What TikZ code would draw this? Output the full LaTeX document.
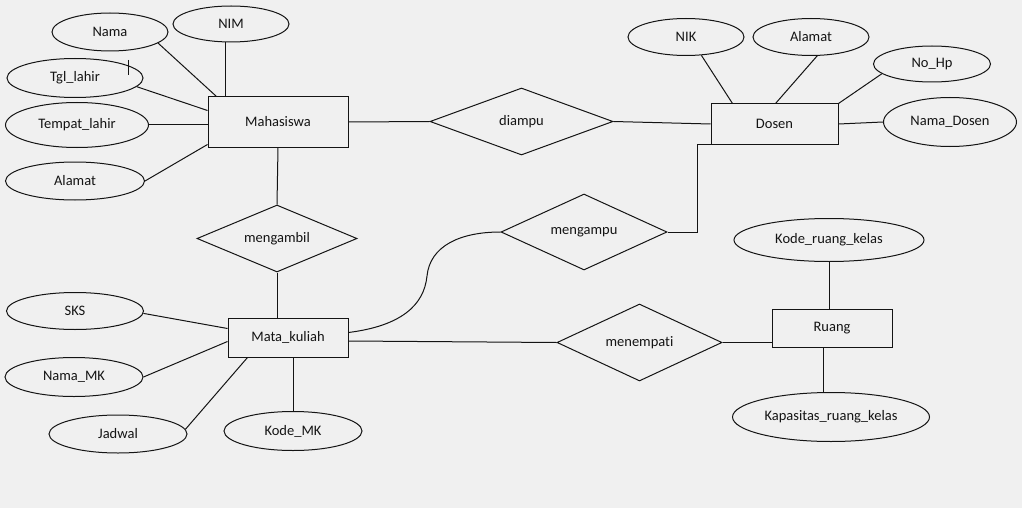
\documentclass[tikz,border=0pt]{standalone}
\usepackage{fontspec}
\setmainfont[Ligatures={NoCommon}]{Carlito}
\usetikzlibrary{shapes.geometric}
\definecolor{bgc}{RGB}{240,240,240}
\definecolor{ink}{RGB}{20,20,20}
\begin{document}
\begin{tikzpicture}[x=1pt,y=-1pt,
  every node/.style={font=\fontsize{14.5}{16}\selectfont, text=ink},
  attr/.style={draw=ink, line width=1pt, ellipse, inner sep=0pt},
  ent/.style={draw=ink, line width=1pt, rectangle, inner sep=0pt},
  rel/.style={draw=ink, line width=1pt, diamond, aspect=2.4, inner sep=0pt},
  conn/.style={draw=ink, line width=1pt}]
\fill[bgc] (0,0) rectangle (1022,508);
\useasboundingbox (0,0) rectangle (1022,508);

% entities
\node[ent, minimum width=140pt, minimum height=50pt] (maha) at (278,122) {\raisebox{2pt}{Mahasiswa}};
\node[ent, minimum width=127pt, minimum height=40pt] (dosen) at (774.5,124) {\raisebox{-4pt}{Dosen}};
\node[ent, minimum width=120pt, minimum height=39pt] (mk) at (288,337.5) {Mata\_kuliah};
\node[ent, minimum width=120pt, minimum height=38pt] (ruang) at (832,328) {Ruang};

% relationships
\node[rel, minimum width=183pt, minimum height=67pt] (diampu) at (521.5,121.5) {diampu};
\node[rel, minimum width=160pt, minimum height=67pt] (mengambil) at (277,238.5) {mengambil};
\node[rel, minimum width=166pt, minimum height=76pt] (mengampu) at (584,232) {\raisebox{3pt}{mengampu}};
\node[rel, minimum width=165pt, minimum height=77pt] (menempati) at (639.5,342.5) {menempati};

% attributes
\node[attr, minimum width=116pt, minimum height=38pt] (nama) at (110,32) {Nama};
\node[attr, minimum width=116pt, minimum height=36pt] (nim) at (231,24) {NIM};
\node[attr, minimum width=136pt, minimum height=39pt] (tgl) at (75,78) {Tgl\_lahir};
\node[attr, minimum width=143pt, minimum height=45pt] (tempat) at (77,125) {Tempat\_lahir};
\node[attr, minimum width=139pt, minimum height=38pt] (alamat) at (75,181) {Alamat};
\node[attr, minimum width=116pt, minimum height=37pt] (nik) at (686,37) {NIK};
\node[attr, minimum width=116pt, minimum height=37pt] (alamatd) at (811,37) {Alamat};
\node[attr, minimum width=117pt, minimum height=36pt] (nohp) at (932,64) {No\_Hp};
\node[attr, minimum width=133pt, minimum height=49pt] (namad) at (950,122) {Nama\_Dosen};
\node[attr, minimum width=137pt, minimum height=37pt] (sks) at (75,311) {SKS};
\node[attr, minimum width=138pt, minimum height=39pt] (namamk) at (74,377) {Nama\_MK};
\node[attr, minimum width=138pt, minimum height=38pt] (jadwal) at (118,434) {Jadwal};
\node[attr, minimum width=138pt, minimum height=39pt] (kodemk) at (293,431) {Kode\_MK};
\node[attr, minimum width=190pt, minimum height=43pt] (koderk) at (829,240) {Kode\_ruang\_kelas};
\node[attr, minimum width=197pt, minimum height=49pt] (kapasitas) at (831,417) {Kapasitas\_ruang\_kelas};

% cursor mark
\draw[ink, line width=0.8pt] (128,60) -- (128,75);

% connectors: Mahasiswa
\draw[conn] (nama.-13) -- ([xshift=9pt]maha.north west);
\draw[conn] ([xshift=-6pt]nim.south) -- ([xshift=-53pt]maha.north);
\draw[conn] (tgl.-8) -- ([yshift=-14pt]maha.north west);
\draw[conn] (tempat.east) -- (tempat.east -| maha.west);
\draw[conn] (alamat.east) -- ([yshift=3pt]maha.south west);
\draw[conn] (maha.east) -- (diampu.west);
\draw[conn] (maha.south) -- (mengambil.north);
% Dosen
\draw[conn] (diampu.east) -- (dosen.west);
\draw[conn] (nik.-50) -- ([xshift=22pt]dosen.north west);
\draw[conn] (alamatd.-72) -- ([xshift=65pt]dosen.north west);
\draw[conn] (nohp.191) -- (dosen.north east);
\draw[conn] (namad.west) -- (dosen.east);
\draw[conn] (mengampu.east) -- ++(30,0) |- ([xshift=17pt]dosen.south west);
% Mata_kuliah
\draw[conn] (mengambil.south) -- (mengambil.south |- mk.north);
\draw[conn] (sks.-2) -- ([yshift=-11pt]mk.north west);
\draw[conn] (namamk.east) -- ([yshift=-24pt]mk.north west);
\draw[conn] (jadwal.4) -- ([xshift=20pt]mk.south west);
\draw[conn] (kodemk.north) -- (kodemk.north |- mk.south);
\draw[conn] ([yshift=-3.5pt]mk.east) -- (menempati.west);
\draw[conn] ([yshift=5pt]mk.east) .. controls (400,326) and (424,306) .. (427,276)
   .. controls (430,246) and (460,232) .. (mengampu.west);
% Ruang
\draw[conn] (menempati.east) -- (menempati.east -| ruang.west);
\draw[conn] (koderk.south) -- (koderk.south |- ruang.north);
\draw[conn] ([xshift=-9pt]ruang.south) -- ([xshift=-9pt]ruang.south |- kapasitas.north);
\end{tikzpicture}
\end{document}
